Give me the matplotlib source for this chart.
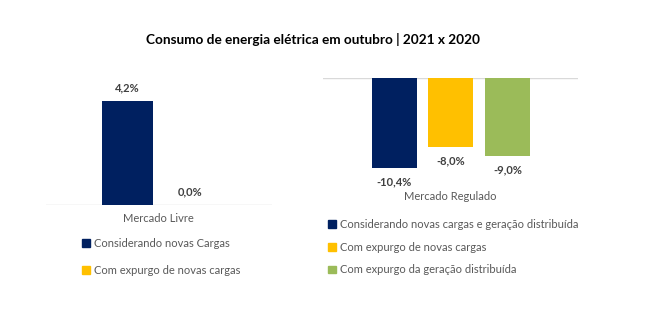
import matplotlib.pyplot as plt
from matplotlib.patches import Patch

# Data
livre_labels = ['Considerando novas Cargas', 'Com expurgo de novas cargas']
livre_values = [4.2, 0.0]
regulado_labels = ['Considerando novas cargas e geração distribuída',
                   'Com expurgo de novas cargas',
                   'Com expurgo da geração distribuída']
regulado_values = [-10.4, -8.0, -9.0]

navy, yellow, green = '#002060', '#FFC000', '#9BBB59'
livre_colors = [navy, yellow]
regulado_colors = [navy, yellow, green]

plt.rcParams.update({'font.family': ['Lato', 'DejaVu Sans'], 'font.size': 8})

W, H = 656, 328
fig = plt.figure(figsize=(W / 100, H / 100), dpi=100)


def px_axes(x0, y0, x1, y1):
	# axes from pixel box (top-left origin)
	return fig.add_axes([x0 / W, 1 - y1 / H, (x1 - x0) / W, (y1 - y0) / H])


def fmt(v):
	return f'{v:.1f}%'.replace('.', ',')


# Mercado Livre
ax1 = px_axes(46, 80, 272, 205)
x1 = range(len(livre_values))
ax1.bar(x1, livre_values, width=0.81, color=livre_colors)
ax1.set_xlim(-1.295, 2.295)
ax1.set_ylim(0, 5.04)
for x, v in zip(x1, livre_values):
	ax1.annotate(fmt(v), (x, v), xytext=(0, 9.5), textcoords='offset points',
				 ha='center', va='center', fontweight='bold', color='#404040', fontsize=8)

# Mercado Regulado
ax2 = px_axes(323, 78, 578, 185)
x2 = range(len(regulado_values))
ax2.bar(x2, regulado_values, width=0.8, color=regulado_colors)
ax2.set_xlim(-1.26, 3.25)
ax2.set_ylim(-12.37, 0)
for x, v in zip(x2, regulado_values):
	ax2.annotate(fmt(v), (x, v), xytext=(0, -9.8), textcoords='offset points',
				 ha='center', va='center', fontweight='bold', color='#404040', fontsize=8)

for ax in (ax1, ax2):
	for s in ax.spines.values():
		s.set_visible(False)
	ax.set_xticks([])
	ax.set_yticks([])
	ax.patch.set_alpha(0)
ax1.axhline(0, color='#D9D9D9', lw=1, zorder=0)
ax2.axhline(0, color='#D9D9D9', lw=1, zorder=0)

fig.text(158 / W, 1 - 219 / H, 'Mercado Livre', ha='center', va='center', color='#595959', fontsize=8)
fig.text(450 / W, 1 - 197 / H, 'Mercado Regulado', ha='center', va='center', color='#595959', fontsize=8)
fig.text(313 / W, 1 - 40 / H, 'Consumo de energia elétrica em outubro | 2021 x 2020',
		 ha='center', va='center', fontweight='bold', fontsize=9.8, color='black')

# Legends
h1 = [Patch(color=c) for c in livre_colors]
fig.legend(h1, livre_labels, loc='upper left', bbox_to_anchor=(82 / W, 1 - 238 / H),
		   frameon=False, handlelength=0.7, handleheight=0.7, handletextpad=0.4,
		   labelspacing=1.4, borderaxespad=0, borderpad=0, labelcolor='#595959', fontsize=8)
h2 = [Patch(color=c) for c in regulado_colors]
fig.legend(h2, regulado_labels, loc='upper left', bbox_to_anchor=(328 / W, 1 - 219 / H),
		   frameon=False, handlelength=0.7, handleheight=0.7, handletextpad=0.4,
		   labelspacing=1.05, borderaxespad=0, borderpad=0, labelcolor='#595959', fontsize=8)

fig.savefig('out.png', dpi=100, facecolor='white')
